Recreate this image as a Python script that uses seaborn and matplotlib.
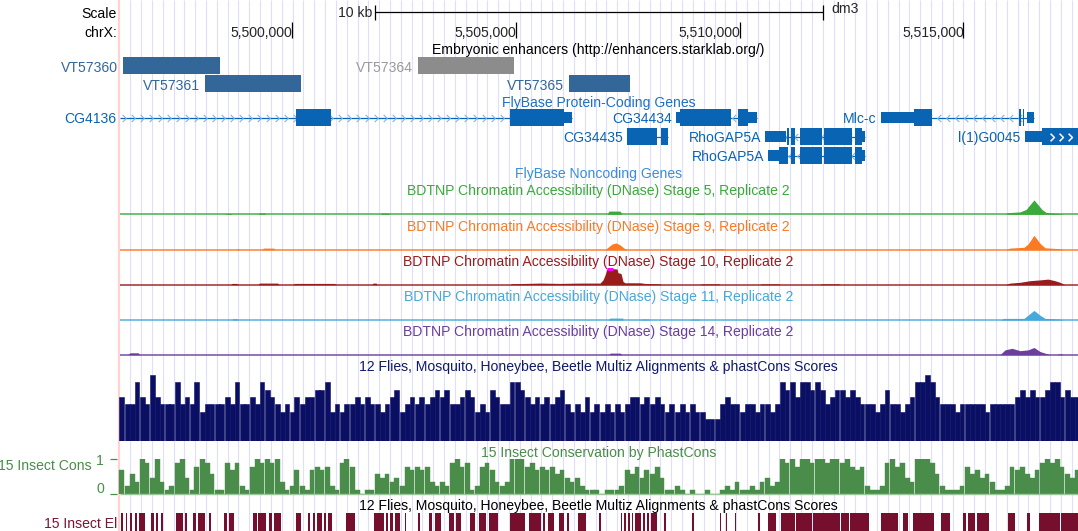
import numpy as np
import pandas as pd
import matplotlib.pyplot as plt
import seaborn as sns
from matplotlib.path import Path

sns.set_style("white")
plt.rcParams['font.family'] = ['Liberation Sans', 'DejaVu Sans']

W, H = 1078, 531
BPP = 22.34                      # bp per pixel
X0 = 5500000 - 292 * BPP         # genomic position at image pixel 0
FS = 10.1


def gx(px):
    return X0 + np.asarray(px) * BPP


def frac(top, bottom):
    return [0, 1 - bottom / H, 1, (bottom - top) / H]


# ---- ruler ----
tick_pos = [5500000, 5505000, 5510000, 5515000]
tick_labels = ["5,500,000", "5,505,000", "5,510,000", "5,515,000"]
scale_start, scale_end = 5501854, 5511854

# ---- enhancers ----
vt_names = ["VT57360", "VT57361", "VT57364", "VT57365"]
vt_start = [5496218, 5498056, 5502815, 5506188]
vt_end = [5498398, 5500201, 5504959, 5507551]
vt_row = [0, 1, 0, 1]
vt_color = ["#336699", "#336699", "#8c8c8c", "#336699"]
vt_text = ["#336699", "#336699", "#9a9a9a", "#336699"]

# ---- genes ----
gene_names = ["CG4136", "CG34434", "CG34435", "RhoGAP5A", "RhoGAP5A", "Mlc-c", "l(1)G0045"]
gene_row = [0, 0, 1, 1, 2, 0, 1]
gene_strand = ["+", "-", "", "-", "-", "-", "+"]
gene_start = [5496160, 5508579, 5507473, 5510574, 5510634, 5513152, 5516369]
gene_end = [5506255, 5510397, 5508404, 5512801, 5512801, 5516576, 5517700]
gene_cds = [
    [(5500089, 5500871), (5504870, 5506077)],
    [(5508668, 5509803), (5509957, 5510187)],
    [(5507473, 5508150), (5508243, 5508404)],
    [(5511058, 5511103), (5511148, 5511226), (5511342, 5511840), (5511880, 5512510), (5512573, 5512734)],
    [(5510880, 5511080), (5511148, 5511226), (5511342, 5511840), (5511880, 5512510), (5512573, 5512734)],
    [(5513895, 5514298), (5516252, 5516286), (5516324, 5516353)],
    [(5516762, 5517700)],
]
gene_utr = [
    [(5506077, 5506255)],
    [(5508579, 5508668), (5510187, 5510397)],
    [],
    [(5510574, 5511036), (5512734, 5512801)],
    [(5510634, 5510880), (5512734, 5512801)],
    [(5513152, 5513895), (5516413, 5516576)],
    [(5516369, 5516762)],
]

# ---- DNase signal (0..1 of track height, >1 = clipped) ----
s5_pos = [5498503, 5498530, 5498630, 5498660, 5499240, 5499270, 5499390, 5499419,
          5501966, 5502000, 5502150, 5502189, 5507037, 5507080, 5507330, 5507372,
          5509003, 5509030, 5509200, 5509226, 5515928, 5515995, 5516264, 5516398,
          5516487, 5516576, 5516666, 5516755, 5516844, 5516978, 5517157, 5517224]
s5_val = [0, .05, .05, 0, 0, .08, .08, 0, 0, .08, .08, 0, 0, .2, .2, 0,
          0, .05, .05, 0, 0, .1, .15, .3, .6, .9, .6, .3, .12, .08, .05, 0]

s9_pos = [5498749, 5498770, 5498820, 5498838, 5499330, 5499360, 5499590, 5499620,
          5506992, 5507059, 5507149, 5507238, 5507328, 5507417, 5507484,
          5509338, 5509370, 5509640, 5509673,
          5515928, 5516040, 5516353, 5516442, 5516576, 5516710, 5516822, 5517157, 5517224]
s9_val = [0, .05, .05, 0, 0, .1, .1, 0,
          0, .15, .35, .42, .3, .1, 0,
          0, .06, .06, 0,
          0, .1, .15, .35, .9, .4, .12, .06, 0]

s10_pos = [5498637, 5498660, 5498770, 5498794, 5499240, 5499270, 5499680, 5499710,
           5500022, 5500050, 5500950, 5500983, 5501787, 5501810, 5501880, 5501899,
           5504870, 5504900, 5505540, 5505987, 5506434, 5506881, 5506948, 5506992,
           5507037, 5507171, 5507261, 5507283, 5507350, 5507395, 5507439, 5507774,
           5507886, 5508221, 5508250,
           5509115, 5509140, 5509540, 5509562, 5510455, 5510480, 5510880, 5510902,
           5511796, 5511820, 5512220, 5512242,
           5515928, 5516040, 5516264, 5516487, 5516710, 5516889, 5517045, 5517157, 5517269]
s10_val = [0, .08, .08, 0, 0, .1, .1, 0,
           0, .08, .08, 0, 0, .1, .1, 0,
           0, .06, .1, .08, .1, .1, .3, .6,
           1.05, 1.05, .98, .75, .7, .2, .12, .12,
           .08, .05, 0,
           0, .05, .05, 0, 0, .05, .05, 0,
           0, .05, .05, 0,
           0, .1, .15, .25, .3, .35, .25, .15, 0]

s11_pos = [5498660, 5498680, 5498770, 5498794, 5507059, 5507100, 5507380, 5507417,
           5507774, 5507800, 5507970, 5507998, 5508891, 5508920, 5509090, 5509115,
           5515817, 5515900, 5516353, 5516442, 5516576, 5516710, 5516822, 5517157, 5517224]
s11_val = [0, .08, .08, 0, 0, .12, .12, 0,
           0, .06, .06, 0, 0, .05, .05, 0,
           0, .1, .1, .3, .6, .3, .1, .06, 0]

s14_pos = [5496336, 5496380, 5496560, 5496604, 5507082, 5507110, 5507330, 5507372,
           5515817, 5515928, 5516085, 5516264, 5516442, 5516576, 5516710, 5516844,
           5516933, 5517100, 5517130, 5517200, 5517224]
s14_val = [0, .12, .12, 0, 0, .1, .1, 0,
           0, .3, .4, .25, .3, .45, .2, .08,
           0, 0, .05, .05, 0]

# ---- conservation, one value per 5 px bin from the left edge (0..9) ----
multiz_vals = [
    6, 5, 5, 8, 6, 5, 9, 6, 5, 5, 5, 8, 5, 6, 5, 8, 4, 5, 5, 5, 5, 6, 5, 8,
    5, 5, 6, 5, 8, 7, 6, 5, 4, 5, 4, 6, 5, 6, 6, 7, 7, 8, 4, 5, 4, 5, 5, 6,
    5, 6, 5, 5, 4, 5, 6, 7, 4, 5, 6, 5, 6, 5, 6, 7, 6, 7, 5, 5, 6, 7, 6, 4,
    5, 4, 7, 6, 5, 5, 8, 8, 7, 6, 5, 6, 5, 6, 5, 6, 7, 5, 4, 5, 4, 6, 4, 5,
    4, 5, 4, 5, 4, 5, 6, 6, 5, 6, 5, 6, 5, 4, 5, 4, 5, 4, 5, 4, 4, 3, 3, 3,
    5, 6, 5, 5, 4, 5, 5, 4, 5, 5, 4, 5, 8, 7, 8, 6, 8, 8, 7, 8, 7, 5, 6, 7,
    7, 6, 7, 6, 5, 5, 5, 4, 5, 7, 5, 5, 4, 5, 6, 8, 8, 9, 8, 6, 5, 5, 5, 4,
    5, 5, 5, 5, 5, 4, 5, 5, 5, 5, 5, 6, 7, 6, 7, 6, 6, 7, 8, 8, 6, 7, 6, 6,
]
cons_vals = [
    6, 2, 5, 3, 9, 8, 4, 9, 3, 1, 2, 8, 9, 4, 1, 7, 9, 8, 5, 1, 1, 8, 6, 8,
    2, 1, 7, 9, 8, 9, 8, 9, 3, 1, 2, 6, 2, 1, 6, 7, 6, 7, 2, 1, 8, 9, 7, 1,
    0, 1, 1, 5, 4, 5, 3, 4, 2, 7, 6, 7, 6, 7, 3, 2, 3, 2, 8, 9, 7, 8, 1, 2,
    7, 8, 6, 3, 2, 3, 9, 9, 9, 7, 8, 6, 7, 6, 7, 5, 6, 4, 3, 4, 2, 1, 1, 1,
    0, 1, 1, 1, 2, 6, 5, 7, 4, 6, 5, 7, 4, 1, 1, 2, 1, 0, 1, 0, 0, 1, 0, 0,
    1, 2, 1, 3, 1, 1, 2, 1, 3, 4, 2, 3, 9, 8, 9, 7, 9, 9, 8, 9, 9, 8, 9, 9,
    8, 9, 7, 6, 7, 2, 1, 1, 2, 8, 9, 7, 8, 4, 3, 9, 9, 9, 8, 5, 2, 1, 1, 1,
    2, 7, 5, 6, 4, 5, 3, 1, 1, 2, 7, 6, 7, 5, 4, 6, 8, 9, 8, 9, 7, 5, 4, 6,
]

# ---- conserved elements ----
elem_start = [5496169, 5496285, 5496381, 5496493, 5496582, 5496861, 5496953, 5497073,
              5497400, 5497610, 5497784, 5497900, 5498146, 5498481, 5498593, 5499129,
              5499240, 5499477, 5499593, 5500089, 5500357, 5500462, 5500554, 5500708,
              5500804, 5501206, 5501823, 5502093, 5502189, 5502301, 5502515, 5502824,
              5503054, 5503186, 5503516, 5503664, 5503977, 5504169, 5504401, 5504861,
              5505286, 5505607, 5505719, 5505958, 5506144, 5506380, 5506865, 5507341,
              5507417, 5507506, 5507585, 5507663, 5507841, 5507931, 5508020, 5508304,
              5508943, 5509557, 5509689, 5509897, 5510419, 5510634, 5510920, 5511259,
              5511650, 5512265, 5512466, 5513149, 5513650, 5513880, 5514499, 5514997,
              5515102, 5515303, 5515995, 5516420, 5516688, 5517179]
elem_end = [5496216, 5496323, 5496426, 5496537, 5496707, 5496908, 5497015, 5497118,
            5497554, 5497645, 5497855, 5498056, 5498190, 5498539, 5498704, 5499218,
            5499419, 5499553, 5499745, 5500201, 5500402, 5500514, 5500670, 5500760,
            5500894, 5501401, 5502055, 5502145, 5502256, 5502402, 5502553, 5502860,
            5503128, 5503324, 5503619, 5503784, 5504088, 5504323, 5504593, 5505205,
            5505572, 5505652, 5505842, 5506072, 5506188, 5506568, 5506896, 5507372,
            5507462, 5507551, 5507618, 5507797, 5507886, 5507976, 5508150, 5508355,
            5508972, 5509588, 5509727, 5509926, 5510455, 5510804, 5511237, 5511617,
            5512242, 5512443, 5512881, 5513536, 5513766, 5514342, 5514689, 5515057,
            5515258, 5515571, 5516152, 5516496, 5517157, 5517600]

GENE = "#0a64b4"
ARROW = "#86b3e3"
NAVY = "#0b0f64"
CONS = "#4a8c4a"
ELEM = "#760f2e"

fig = plt.figure(figsize=(W / 100, H / 100), dpi=100)
bg = fig.add_axes([0, 0, 1, 1])
bg.set_xlim(gx(0), gx(W))
bg.set_ylim(H, 0)
bg.axis('off')


def put(px, y, s, color="black", ha="left"):
    bg.text(gx(px), y, s, ha=ha, va="baseline", color=color, fontsize=FS)


# guidelines + left border
bg.vlines(np.arange(gx(130.3), gx(W), 10.82 * BPP), 0, H, color="#dfdffd", lw=0.8, zorder=0)
bg.vlines(gx(119.3), 0, H, color="#ffd3d3", lw=1.6, zorder=0)

# ruler
put(117, 17.5, "Scale", ha="right")
put(117, 37, "chrX:", ha="right")
bg.hlines(11.7, scale_start, scale_end, color="black", lw=0.9)
bg.vlines([scale_start, scale_end], 4.5, 19.5, color="black", lw=0.9)
bg.text(scale_start - 3 * BPP, 17, "10 kb", ha="right", va="baseline", fontsize=FS)
bg.text(scale_end + 9 * BPP, 13, "dm3", ha="left", va="baseline", fontsize=FS)
bg.vlines(tick_pos, 22, 38, color="black", lw=0.9)
for p, lab in zip(tick_pos, tick_labels):
    bg.text(p + 0.5 * BPP, 37, lab, ha="right", va="baseline", fontsize=FS)

# enhancers
put(598.5, 54, "Embryonic enhancers (http://enhancers.starklab.org/)", ha="center")
vt_top = [56.7, 74.7]
for name, s, e, r, c, tc in zip(vt_names, vt_start, vt_end, vt_row, vt_color, vt_text):
    bg.broken_barh([(s, e - s)], (vt_top[r], 17), facecolors=c, edgecolors="none")
    bg.text(s - 5 * BPP, vt_top[r] + 14.8, name, ha="right", va="baseline", color=tc, fontsize=FS)

# genes
put(598.5, 106.5, "FlyBase Protein-Coding Genes", color="#1c70c6", ha="center")
row_y = [117.7, 136.7, 155.7]
chev_r = Path([(-0.5, 1), (0.5, 0), (-0.5, -1)], [Path.MOVETO, Path.LINETO, Path.LINETO])
chev_l = Path([(0.5, 1), (-0.5, 0), (0.5, -1)], [Path.MOVETO, Path.LINETO, Path.LINETO])
for i, name in enumerate(gene_names):
    y = row_y[gene_row[i]]
    s, e = gene_start[i], gene_end[i]
    bg.hlines(y, s, e, color=GENE, lw=0.9, zorder=2)
    if gene_strand[i]:
        arr = np.arange(s + 4 * BPP, e - 2 * BPP, 9 * BPP)
        bg.plot(arr, np.full(len(arr), y), ls="none",
                marker=chev_r if gene_strand[i] == "+" else chev_l,
                ms=5.2, mfc="none", mec=ARROW, mew=0.8, zorder=2)
    bg.broken_barh([(a, b - a) for a, b in gene_utr[i]], (y - 5.3, 10.6),
                   facecolors=GENE, edgecolors="none", zorder=3)
    bg.broken_barh([(a, b - a) for a, b in gene_cds[i]], (y - 8.7, 17.4),
                   facecolors=GENE, edgecolors="none", zorder=3)
    bg.text(s - 4 * BPP, y + 5.4, name, ha="right", va="baseline", color=GENE, fontsize=FS)
# white strand arrows inside the long last exon
a, b = gene_cds[6][0]
arr = np.arange(a + 9.4 * BPP, gx(W) - 3 * BPP, 9 * BPP)
bg.plot(arr, np.full(len(arr), row_y[gene_row[6]]), ls="none", marker=chev_r,
        ms=5.5, mfc="none", mec="white", mew=1.1, zorder=4)

put(598.5, 178, "FlyBase Noncoding Genes", color="#3a8ddb", ha="center")

# DNase tracks
dnase_titles = ["BDTNP Chromatin Accessibility (DNase) Stage 5, Replicate 2",
                "BDTNP Chromatin Accessibility (DNase) Stage 9, Replicate 2",
                "BDTNP Chromatin Accessibility (DNase) Stage 10, Replicate 2",
                "BDTNP Chromatin Accessibility (DNase) Stage 11, Replicate 2",
                "BDTNP Chromatin Accessibility (DNase) Stage 14, Replicate 2"]
dnase_pos = [s5_pos, s9_pos, s10_pos, s11_pos, s14_pos]
dnase_val = [s5_val, s9_val, s10_val, s11_val, s14_val]
dnase_col = ["#3aaa3a", "#fb7a22", "#9a1b1b", "#46a9d9", "#6b3ea0"]
dnase_base = [214.3, 249.7, 284.7, 320.0, 354.7]


def track_axes(top, bottom, ymax):
    t = fig.add_axes(frac(top, bottom))
    t.set_xlim(gx(0), gx(W))
    t.set_ylim(0, ymax)
    t.axis('off')
    return t


for i in range(5):
    base = dnase_base[i]
    col = dnase_col[i]
    put(598.5, base - 18.8, dnase_titles[i], color=col, ha="center")
    t = track_axes(base - 16, base, 1.0)
    pos = np.array(dnase_pos[i])
    val = np.array(dnase_val[i])
    t.fill_between(pos, 0, np.minimum(val, 1.0), color=col, lw=0)
    t.hlines(0, gx(120), gx(W), color=col, lw=1.2, alpha=0.85, clip_on=False)
    over = val > 1
    for j in range(len(val) - 1):
        if over[j] and over[j + 1]:
            t.hlines(1.0, pos[j], pos[j + 1], color="#ff00ff", lw=2.2, clip_on=False)

# binned conservation tables
edges = gx(119.5 + 5 * np.arange(len(multiz_vals) + 1))
cons_df = pd.DataFrame({
    "pos": (edges[:-1] + edges[1:]) / 2,
    "multiz": multiz_vals,
    "phastcons": cons_vals,
})

# multiz conservation
put(598.5, 371.5, "12 Flies, Mosquito, Honeybee, Beetle Multiz Alignments & phastCons Scores",
    color="#101a6a", ha="center")
t = track_axes(375, 441, 9)
sns.histplot(data=cons_df, x="pos", weights="multiz", bins=list(edges), ax=t,
             color=NAVY, alpha=1, linewidth=0.4, edgecolor=NAVY)
t.set_xlim(gx(0), gx(W))
t.set_ylim(0, 9)
t.axis('off')

# phastCons
put(598.5, 456.5, "15 Insect Conservation by PhastCons", color=CONS, ha="center")
put(92, 470.5, "15 Insect Cons", color=CONS, ha="right")
put(104, 465, "1", color=CONS, ha="right")
put(104, 492.7, "0", color=CONS, ha="right")
bg.hlines([458.7, 494], gx(110), gx(117), color=CONS, lw=0.9)
t = track_axes(458.7, 494, 9)
sns.histplot(data=cons_df, x="pos", weights="phastcons", bins=list(edges), ax=t,
             color=CONS, alpha=1, linewidth=0.3, edgecolor=CONS)
t.hlines(0, gx(120), gx(W), color="#9cc69c", lw=1.0, clip_on=False)
t.set_xlim(gx(0), gx(W))
t.set_ylim(0, 9)
t.axis('off')

# conserved elements
put(598.5, 510, "12 Flies, Mosquito, Honeybee, Beetle Multiz Alignments & phastCons Scores",
    ha="center")
put(117, 528, "15 Insect El", color="#7a1632", ha="right")
t = track_axes(512.7, 531, 1)
t.broken_barh([(s, e - s) for s, e in zip(elem_start, elem_end)], (0, 1),
              facecolors=ELEM, edgecolors="none")

fig.savefig("out.png", dpi=100)
plt.close(fig)
